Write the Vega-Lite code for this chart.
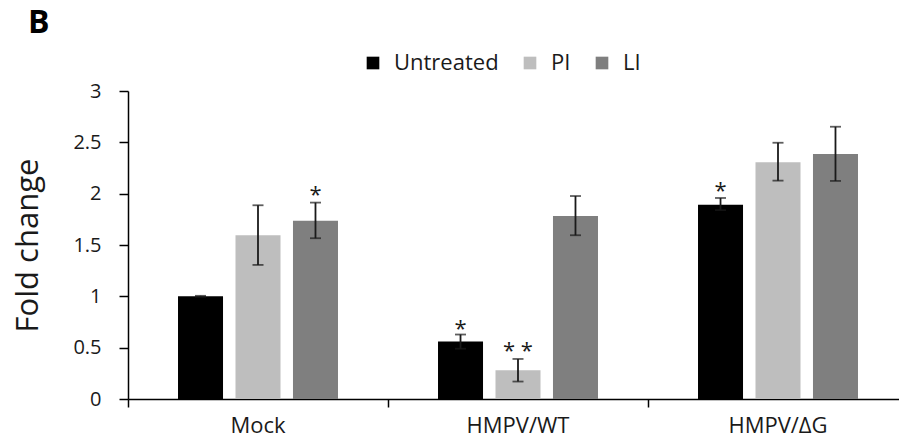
{
  "$schema": "https://vega.github.io/schema/vega-lite/v6.json",
  "width": 771,
  "height": 308,
  "autosize": {"type": "none"},
  "padding": {"left": 128, "top": 91, "right": 0, "bottom": 44},
  "background": "white",
  "config": {
    "font": "Open Sans",
    "view": {"stroke": null}
  },
  "title": {
    "text": "B",
    "anchor": "start",
    "frame": "group",
    "dx": -100,
    "dy": 33,
    "offset": 20,
    "baseline": "alphabetic",
    "fontSize": 32,
    "fontWeight": "bold",
    "color": "#000000",
    "font": "Open Sans"
  },
  "data": {
    "values": [
      {"group": "Mock", "treatment": "Untreated", "value": 1.0, "lo": 0.995, "hi": 1.005, "sig": null, "sig_y": null},
      {"group": "Mock", "treatment": "PI", "value": 1.595, "lo": 1.306, "hi": 1.887, "sig": null, "sig_y": null},
      {"group": "Mock", "treatment": "LI", "value": 1.735, "lo": 1.566, "hi": 1.913, "sig": "*", "sig_y": 2.04},
      {"group": "HMPV/WT", "treatment": "Untreated", "value": 0.56, "lo": 0.49, "hi": 0.628, "sig": "*", "sig_y": 0.726},
      {"group": "HMPV/WT", "treatment": "PI", "value": 0.28, "lo": 0.17, "hi": 0.39, "sig": "* *", "sig_y": 0.52},
      {"group": "HMPV/WT", "treatment": "LI", "value": 1.783, "lo": 1.595, "hi": 1.977, "sig": null, "sig_y": null},
      {"group": "HMPV/ΔG", "treatment": "Untreated", "value": 1.893, "lo": 1.84, "hi": 1.958, "sig": "*", "sig_y": 2.075},
      {"group": "HMPV/ΔG", "treatment": "PI", "value": 2.305, "lo": 2.127, "hi": 2.496, "sig": null, "sig_y": null},
      {"group": "HMPV/ΔG", "treatment": "LI", "value": 2.386, "lo": 2.124, "hi": 2.652, "sig": null, "sig_y": null}
    ]
  },
  "encoding": {
    "x": {
      "field": "group",
      "type": "nominal",
      "sort": ["Mock", "HMPV/WT", "HMPV/ΔG"],
      "scale": {"range": [0, 780], "paddingInner": 0, "paddingOuter": 0},
      "axis": {
        "title": null,
        "labelAngle": 0,
        "bandPosition": 0,
        "domainColor": "#000000",
        "domainWidth": 1.5,
        "tickColor": "#000000",
        "tickWidth": 1.5,
        "tickSize": 8,
        "labelFontSize": 22,
        "labelColor": "#1a1a1a",
        "labelPadding": 8,
        "labelFont": "Open Sans"
      }
    },
    "xOffset": {
      "field": "treatment",
      "type": "nominal",
      "sort": ["Untreated", "PI", "LI"],
      "scale": {"paddingInner": 0.217, "paddingOuter": 0.87}
    }
  },
  "layer": [
    {
      "mark": {"type": "bar"},
      "encoding": {
        "y": {
          "field": "value",
          "type": "quantitative",
          "scale": {"domain": [0, 3], "nice": false},
          "axis": {
            "title": "Fold change",
            "values": [0, 0.5, 1, 1.5, 2, 2.5, 3],
            "labelExpr": "datum.value + ''",
            "grid": false,
            "domainColor": "#000000",
            "domainWidth": 1.5,
            "tickColor": "#000000",
            "tickWidth": 1.5,
            "tickSize": 9,
            "labelFontSize": 20,
            "labelColor": "#1a1a1a",
            "labelPadding": 18,
            "labelFont": "Open Sans",
            "titleFontSize": 31,
            "titleFontWeight": "normal",
            "titleColor": "#1a1a1a",
            "titleFont": "Open Sans",
            "titleX": -84,
            "titleY": 154,
            "titleAngle": -90,
            "titleAlign": "center",
            "titleBaseline": "bottom"
          }
        },
        "color": {
          "field": "treatment",
          "type": "nominal",
          "sort": ["Untreated", "PI", "LI"],
          "scale": {"domain": ["Untreated", "PI", "LI"], "range": ["#000000", "#bebebe", "#7f7f7f"]},
          "legend": {
            "title": null,
            "orient": "none",
            "direction": "horizontal",
            "legendX": 234,
            "legendY": -39,
            "symbolType": "square",
            "symbolSize": 160,
            "symbolStrokeWidth": 0,
            "labelFontSize": 22,
            "labelFont": "Open Sans",
            "labelColor": "#1a1a1a",
            "labelOffset": 10,
            "columnPadding": 20
          }
        }
      }
    },
    {
      "mark": {"type": "rule", "color": "#1a1a1a", "strokeWidth": 1.8},
      "encoding": {
        "y": {"field": "lo", "type": "quantitative"},
        "y2": {"field": "hi"}
      }
    },
    {
      "transform": [{"fold": ["lo", "hi"], "as": ["end", "endval"]}],
      "mark": {"type": "tick", "color": "#1a1a1a", "thickness": 1.8, "size": 11, "orient": "horizontal"},
      "encoding": {
        "y": {"field": "endval", "type": "quantitative"}
      }
    },
    {
      "transform": [{"filter": "datum.sig != null"}],
      "mark": {"type": "text", "fontSize": 22, "baseline": "middle", "dy": 5, "color": "#1a1a1a", "font": "Open Sans"},
      "encoding": {
        "y": {"field": "sig_y", "type": "quantitative"},
        "text": {"field": "sig"}
      }
    }
  ]
}
